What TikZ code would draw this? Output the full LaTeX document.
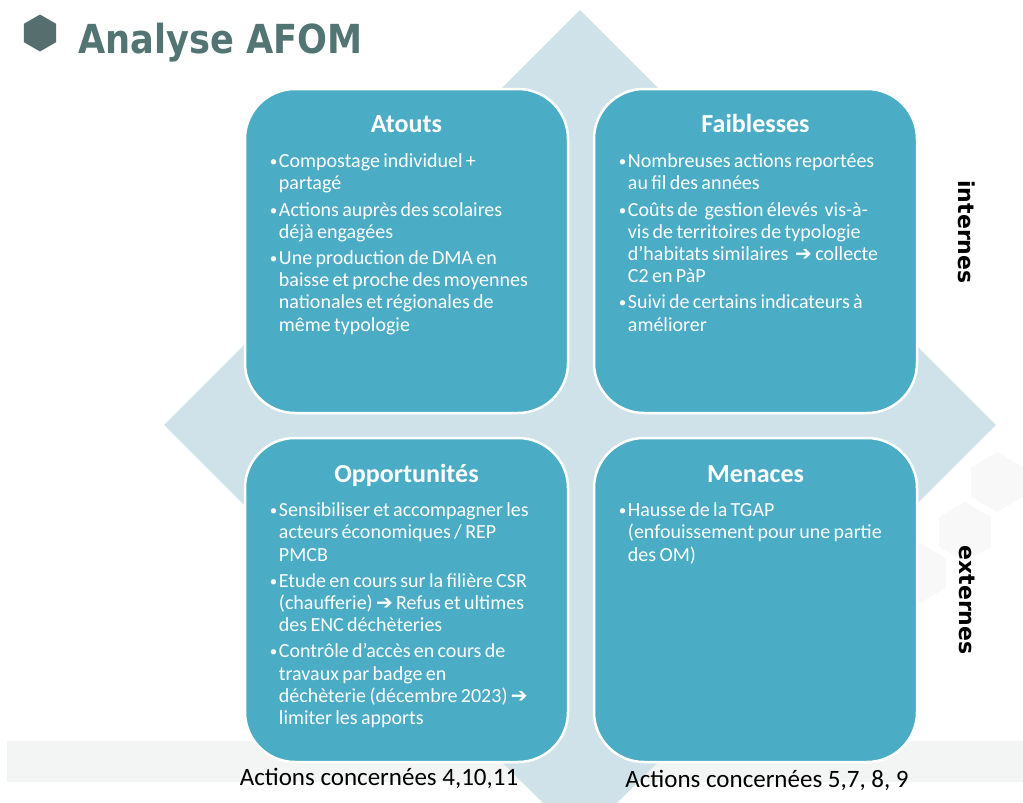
\documentclass[tikz,border=0pt]{standalone}
\usepackage{fontspec}
\setmainfont{Carlito}
\newfontfamily\headfont[FakeStretch=0.88]{DejaVu Sans}
\newfontfamily\sidefont{DejaVu Sans}
\newfontfamily\arrowfont{DejaVu Sans}
\usetikzlibrary{positioning,shapes.geometric}
\definecolor{boxblue}{HTML}{4BACC6}
\definecolor{diamondgrey}{HTML}{D0E2E9}
\definecolor{titlegrey}{HTML}{527473}
\definecolor{hexgrey}{HTML}{566F6E}
\definecolor{bandgrey}{HTML}{F3F5F4}
\definecolor{hexfaint}{HTML}{F8F8F8}
\newcommand\bitem[1]{\hangindent=9pt\hangafter=1\noindent
  \makebox[9pt][l]{\raisebox{1pt}{\fontsize{15}{15}\selectfont\textbullet}}#1\par}
\newcommand\arr{{\arrowfont\bfseries ➔}}
\begin{document}
\begin{tikzpicture}[x=1pt,y=-1pt]
  \tikzstyle{afombox}=[rectangle,rounded corners=50pt,fill=boxblue,draw=white,line width=2.5pt,
                       minimum width=323pt,minimum height=324pt,inner sep=0pt]
  \tikzstyle{afomtitle}=[anchor=base,inner sep=0pt,text=white,font=\fontsize{26}{30}\selectfont\bfseries]
  \tikzstyle{afomtext}=[anchor=base west,text width=300pt,align=left,inner sep=0pt,text=white,
                        execute at begin node={\fontsize{20}{22.2}\selectfont\setlength{\parskip}{4pt}}]
  \tikzstyle{actlabel}=[anchor=base,inner sep=0pt,font=\fontsize{25}{30}\selectfont]
  \tikzstyle{sidelabel}=[rotate=-90,inner sep=0pt,font=\sidefont\bfseries\fontsize{22}{26}\selectfont]
  \tikzstyle{faint hex}=[regular polygon,regular polygon sides=6,shape border rotate=30,
                         minimum size=60pt,fill=hexfaint,inner sep=0pt]
  \useasboundingbox (0,0) rectangle (1023,803);
  % background
  \fill[bandgrey] (7,741) rectangle (1023,782);
  \node[faint hex] (hexa) at (997,482) {};
  \node[faint hex] (hexb) at (965,532) {};
  \node[faint hex] (hexc) at (920,573) {};
  \fill[diamondgrey] (580,10) -- (996,425) -- (580,840) -- (164,425) -- cycle;
  % heading
  \node[regular polygon,regular polygon sides=6,shape border rotate=30,minimum size=37pt,
        fill=hexgrey,inner sep=0pt] (bullet) at (40,33) {};
  \node[anchor=base west,inner sep=0pt,text=titlegrey,font=\headfont\bfseries\fontsize{40}{48}\selectfont]
    (title) at (78,53) {Analyse AFOM};
  % the four boxes
  \node[afombox] (atouts) at (406.5,251) {};
  \node[afombox] (faibl) at (755.5,251) {};
  \node[afombox] (opport) at (406.5,600) {};
  \node[afombox] (menaces) at (755.5,600) {};
  \node[afomtitle] (atouts-t) at ([yshift=-45pt]atouts.north) {Atouts};
  \node[afomtitle] (faibl-t) at ([yshift=-45pt]faibl.north) {Faiblesses};
  \node[afomtitle] (opport-t) at ([yshift=-46pt]opport.north) {Opportunités};
  \node[afomtitle] (menaces-t) at ([yshift=-46pt]menaces.north) {Menaces};
  \node[afomtext] (atouts-b) at ([xshift=26pt,yshift=-80pt]atouts.north west) {%
    \bitem{Compostage individuel +\newline partagé}
    \bitem{Actions auprès des scolaires\newline déjà engagées}
    \bitem{Une production de DMA en\newline baisse et proche des moyennes\newline nationales et régionales de\newline même typologie}};
  \node[afomtext] (faibl-b) at ([xshift=26pt,yshift=-80pt]faibl.north west) {%
    \bitem{Nombreuses actions reportées\newline au fil des années}
    \bitem{Coûts de~ gestion élevés~ vis-à-\newline vis de territoires de typologie\newline d’habitats similaires~ \arr{} collecte\newline C2 en PàP}
    \bitem{Suivi de certains indicateurs à\newline améliorer}};
  \node[afomtext] (opport-b) at ([xshift=26pt,yshift=-80pt]opport.north west) {%
    \bitem{Sensibiliser et accompagner les\newline acteurs économiques / REP\newline PMCB}
    \bitem{Etude en cours sur la filière CSR\newline (chaufferie) \arr{} Refus et ultimes\newline des ENC déchèteries}
    \bitem{Contrôle d’accès en cours de\newline travaux par badge en\newline déchèterie (décembre 2023) \arr\newline limiter les apports}};
  \node[afomtext] (menaces-b) at ([xshift=26pt,yshift=-80pt]menaces.north west) {%
    \bitem{Hausse de la TGAP\newline (enfouissement pour une partie\newline des OM)}};
  % side and bottom labels
  \node[sidelabel] (internes) at (967,232) {internes};
  \node[sidelabel] (externes) at (967,600) {externes};
  \node[actlabel] (actions-a) at (379,785) {Actions concernées 4,10,11};
  \node[actlabel] (actions-b) at (767,787) {Actions concernées 5,7, 8, 9};
\end{tikzpicture}
\end{document}
